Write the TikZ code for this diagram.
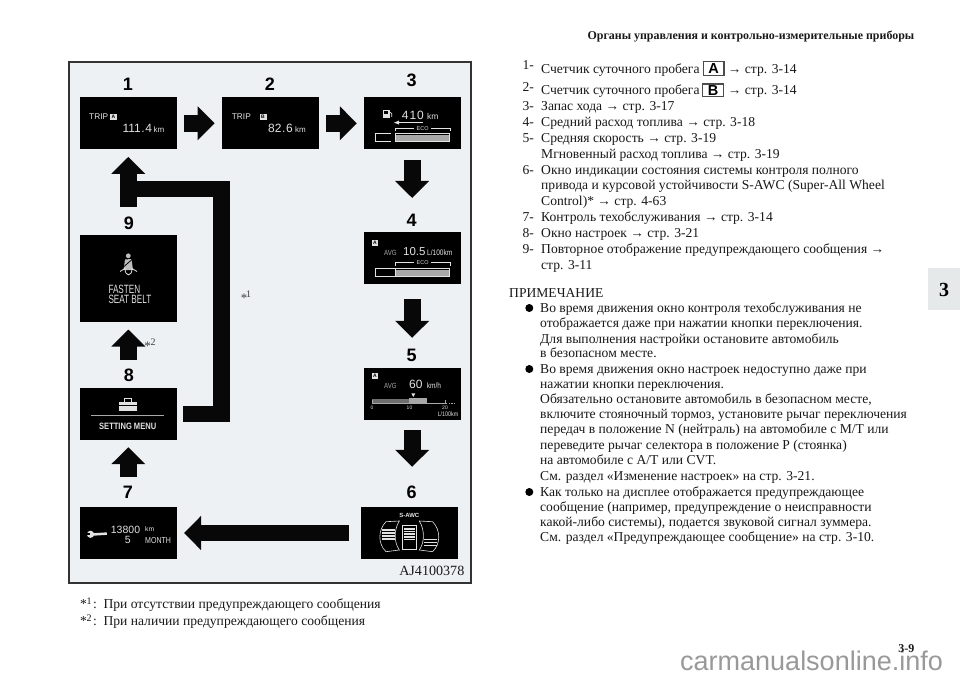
\documentclass[tikz,border=0pt]{standalone}
\usepackage{fontspec}
\usetikzlibrary{arrows.meta}
\setmainfont{Liberation Serif}
\newfontfamily\sansf{Liberation Sans}
\newfontfamily\condf[FakeStretch=0.82]{Liberation Sans}
\newfontfamily\condg[FakeStretch=0.68]{Liberation Sans}
\definecolor{panelbg}{HTML}{EEF1F3}
\definecolor{tabbg}{HTML}{E6E9E9}
\definecolor{lite}{HTML}{E2E2E2}
\definecolor{midg}{HTML}{A8A8A8}
\definecolor{darkg}{HTML}{6E6E6E}
\tikzset{
  screen/.style={fill=black,inner sep=0pt,minimum width=97pt,minimum height=52pt,anchor=center},
  num/.style={font=\sansf\bfseries\fontsize{18}{18}\selectfont,inner sep=0pt,anchor=center},
  blockbar/.style={line width=16.7pt,line join=miter,draw=black!97},
  blockarrow/.style={blockbar,-{Triangle[length=17pt,width=33pt]}},
  body/.style={font=\fontsize{13.6}{15}\selectfont,inner sep=0pt,anchor=base west,text=black!90},
  scr/.style={inner sep=0pt,anchor=base west,text=lite},
  keybox/.style={draw=black!70,line width=1.3pt,fill=white,inner sep=0pt,font=\sansf\bfseries\fontsize{14.5}{14}\selectfont},
  dotbullet/.style={circle,fill=black,inner sep=0pt,minimum size=8pt},
  tinyA/.style={fill=lite,inner sep=0pt,minimum width=7pt,minimum height=6pt,font=\sansf\bfseries\fontsize{5}{5}\selectfont,text=black}
}
\begin{document}
\begin{tikzpicture}[x=1pt,y=-1pt]
\useasboundingbox (0,0) rectangle (960,679);
\fill[white] (0,0) rectangle (960,679);
% panel
\draw[fill=panelbg,draw=black!80,line width=1.3pt] (69,62) rectangle (471,583);
% tab
\fill[tabbg] (928,268) rectangle (960,310);
\node[font=\bfseries\fontsize{20}{20}\selectfont,inner sep=0pt] (tabnum) at (944,289.5) {3};
% header, page number, watermark
\node[body,anchor=base east,font=\bfseries\fontsize{11.95}{14}\selectfont] (head) at (914.5,40) {Органы управления и контрольно-измерительные приборы};
\node[anchor=base west,inner sep=0pt,font=\sansf\fontsize{27}{27}\selectfont,text=black!40] (wm) at (680,670) {carmanualsonline.info};
\node[body,anchor=base east,font=\bfseries\fontsize{12}{14}\selectfont] (pageno) at (914.5,652) {3-9};
% screens
\node[screen] (b1) at (128.3,123.3) {};
\node[screen] (b2) at (270,123.3) {};
\node[screen] (b3) at (412.2,123.3) {};
\node[screen] (b4) at (412.2,258.2) {};
\node[screen] (b5) at (412.2,394) {};
\node[screen] (b6) at (409.2,533) {};
\node[screen] (b7) at (128.3,533) {};
\node[screen] (b8) at (128.3,414) {};
\node[screen,minimum height=87pt] (b9) at (128.3,278.5) {};
% numbers
\node[num] (n1) at (128,84) {1};
\node[num] (n2) at (270,84) {2};
\node[num] (n3) at (411.7,80.5) {3};
\node[num] (n4) at (411.7,220.5) {4};
\node[num] (n5) at (411.7,355) {5};
\node[num] (n6) at (411.7,492.5) {6};
\node[num] (n7) at (128,492) {7};
\node[num] (n8) at (129,375) {8};
\node[num] (n9) at (129,223) {9};
% arrows
\draw[blockarrow,shorten <=6.7pt,shorten >=6.7pt] (b1) -- (b2);
\draw[blockarrow,shorten <=7.7pt,shorten >=6.7pt] (b2) -- (b3);
\draw[blockarrow,shorten <=10.7pt,shorten >=34pt] (b3) -- (b4);
\draw[blockarrow,shorten <=15pt,shorten >=30pt] (b4) -- (b5);
\draw[blockarrow,shorten <=10pt,shorten >=40pt] (b5) -- (b5 |- b6.north);
\draw[blockarrow,shorten <=11.7pt,shorten >=7pt] (b6) -- (b7);
\draw[blockarrow,shorten <=29.5pt,shorten >=7pt] (b7) -- (b8);
\draw[blockarrow,shorten <=28pt,shorten >=7.3pt] (b8) -- (b9);
\coordinate (elbow) at (221.7,189);
\coordinate (stem) at (128.3,207);
\draw[blockbar,shorten <=6.3pt] (b8) -- (elbow |- b8) -- (elbow) -- (stem |- elbow);
\draw[blockarrow,shorten >=7.4pt] (stem) -- (b1);
% star notes in panel
\node[inner sep=0pt,font=\fontsize{13}{13}\selectfont,text=black!75] (s1) at (244,298.5) {*};
\node[inner sep=0pt,font=\fontsize{10}{10}\selectfont,text=black!75] (s1n) at (248.5,294) {1};
\node[inner sep=0pt,font=\fontsize{13}{13}\selectfont,text=black!75] (s2) at (147.5,346.5) {*};
\node[inner sep=0pt,font=\fontsize{10}{10}\selectfont,text=black!75] (s2n) at (153,341.7) {2};
\node[body,font=\fontsize{14.1}{14}\selectfont,anchor=base east] (code) at (464.5,575.7) {AJ4100378};
% screen 1
\node[scr,font=\sansf\fontsize{8.3}{8}\selectfont] (t1a) at (89,119.3) {TRIP};
\node[tinyA] (t1k) at (113.5,117) {A};
\node[scr,font=\sansf\fontsize{12}{12}\selectfont] (t1b) at (122.3,132.7) {111\hspace{.6pt}.\hspace{.6pt}4};
\node[scr,font=\sansf\fontsize{8}{8}\selectfont] (t1c) at (153.5,132.7) {km};
% screen 2
\node[scr,font=\sansf\fontsize{8.3}{8}\selectfont] (t2a) at (231.7,119.3) {TRIP};
\node[tinyA] (t2k) at (263,117) {B};
\node[scr,font=\sansf\fontsize{12}{12}\selectfont] (t2b) at (268,132.7) {82\hspace{.6pt}.\hspace{.6pt}6};
\node[scr,font=\sansf\fontsize{8}{8}\selectfont] (t2c) at (295,132.7) {km};
% screen 3
\fill[lite] (383,110) rectangle (389.5,118.5);
\fill[black] (384.2,111.2) rectangle (388.3,113.6);
\draw[lite,line width=.7pt] (389.5,112) -- (391.8,113.5) -- (391.8,117);
\node[scr,font=\sansf\fontsize{12}{12}\selectfont] (t3a) at (401.7,119.3) {4\hspace{1pt}1\hspace{1pt}0};
\node[scr,font=\sansf\fontsize{8.5}{8}\selectfont] (t3b) at (427,119.3) {km};
\draw[lite,line width=.8pt] (396,122.6) -- (423.3,122.6);
\fill[lite] (394,122.6) -- (399,120.6) -- (399,124.6) -- cycle;
\node[inner sep=0pt,font=\sansf\fontsize{5.5}{6}\selectfont,text=lite] (t3e) at (422.7,128.2) {ECO};
\draw[lite,line width=.6pt] (395,130.8) -- (395,128.3) -- (414,128.3);
\draw[lite,line width=.6pt] (431,128.3) -- (450,128.3) -- (450,130.8);
\draw[lite,line width=.6pt] (390.7,133.5) -- (375,133.5) -- (375,141) -- (390.7,141);
\draw[lite,line width=.8pt,fill=midg] (395.7,133.5) rectangle (449.5,141);
\draw[black,line width=.5pt] (396.3,134.6) -- (449,134.6);
% screen 4
\node[tinyA,minimum width=6.5pt] (t4k) at (375,243) {A};
\node[scr,font=\condf\fontsize{7.5}{8}\selectfont,text=midg] (t4a) at (384,255) {AVG};
\node[scr,font=\sansf\fontsize{11.5}{12}\selectfont] (t4b) at (403,255) {10.5};
\node[scr,font=\condf\fontsize{8}{8}\selectfont] (t4c) at (427,255) {L/100km};
\node[inner sep=0pt,font=\sansf\fontsize{5.5}{6}\selectfont,text=lite] (t4e) at (422.7,262.5) {ECO};
\draw[lite,line width=.6pt] (395,265.5) -- (395,262.7) -- (414,262.7);
\draw[lite,line width=.6pt] (431,262.7) -- (450,262.7) -- (450,265.5);
\draw[lite,line width=.6pt] (394.5,268.5) -- (375,268.5) -- (375,276.5) -- (394.5,276.5);
\draw[lite,line width=.8pt,fill=midg] (395.7,268.5) rectangle (449.5,276.5);
\draw[black,line width=.5pt] (396.3,269.6) -- (449,269.6);
% screen 5
\node[tinyA,minimum width=6.5pt] (t5k) at (375,375.5) {A};
\node[scr,font=\condf\fontsize{7.5}{8}\selectfont,text=midg] (t5a) at (384,388) {AVG};
\node[scr,font=\sansf\fontsize{12}{12}\selectfont] (t5b) at (409,388) {60};
\node[scr,font=\condf\fontsize{8}{8}\selectfont] (t5c) at (426.7,388) {km/h};
\fill[lite] (411.3,393.3) -- (415.3,393.3) -- (413.3,397) -- cycle;
\fill[midg] (409.5,397.7) rectangle (427,402.5);
\fill[darkg] (372,398.5) rectangle (409.5,402.5);
\draw[midg,line width=.6pt] (372,399.5) -- (372,403) -- (445,403) -- (445,399.5);
\draw[midg,line width=.6pt] (409.5,398) -- (409.5,403);
\draw[midg,line width=.7pt,dash pattern=on 1.2pt off 1.5pt] (446,403) -- (456,403);
\node[inner sep=0pt,font=\sansf\fontsize{5}{5}\selectfont,text=lite] (t5t0) at (372,407.5) {0};
\node[inner sep=0pt,font=\sansf\fontsize{5}{5}\selectfont,text=lite] (t5t1) at (409.5,407.5) {10};
\node[inner sep=0pt,font=\sansf\fontsize{5}{5}\selectfont,text=lite] (t5t2) at (445,407.5) {20};
\node[inner sep=0pt,font=\condf\fontsize{6.5}{6}\selectfont,text=lite] (t5u) at (448,414) {L/100km};
% screen 6
\node[inner sep=0pt,font=\sansf\bfseries\fontsize{6}{6}\selectfont,text=lite] (t6) at (409.3,515.8) {S-AWC};
\foreach \s in {1,-1}{
 \begin{scope}[shift={(409.3,0)},x=\s pt]
  \draw[lite,line width=.6pt] (-23.3,521.7) -- (-10,521) .. controls (-15.5,530) and (-15.5,542) .. (-10,550) -- (-23.3,551.7) .. controls (-31.5,544) and (-31.5,530) .. (-23.3,521.7);
 \end{scope}}
\foreach \yy in {529,532,535,538}{\fill[lite] (381.5,\yy) rectangle (395,\yy+1.7);}
\foreach \yy in {538.5,541.5,544.5}{\fill[lite] (424,\yy) rectangle (437,\yy+1.7);}
\draw[lite,line width=.6pt] (402.3,525) rectangle (416.7,549.3);
\foreach \yy in {528.2,530.8,533.4,536,538.6}{\fill[lite] (404,\yy) rectangle (414.5,\yy+1.6);}
% screen 7
\fill[lite] (90.5,534.3) circle (3.6);
\fill[black] (85.8,533.3) rectangle (89.6,535.3);
\draw[lite,line width=2.5pt] (91,534.6) -- (106.8,533.6);
\node[scr,font=\sansf\fontsize{10.5}{11}\selectfont] (t7a) at (110.7,533.5) {13800};
\node[scr,font=\sansf\fontsize{6.8}{7}\selectfont] (t7b) at (145,531) {km};
\node[scr,font=\sansf\fontsize{10.5}{11}\selectfont] (t7c) at (124.7,543.5) {5};
\node[scr,font=\condf\fontsize{8.6}{8}\selectfont] (t7d) at (145,543.5) {MONTH};
% screen 8
\fill[lite] (119,402) rectangle (136.7,410.7);
\draw[lite,line width=1pt] (124,402) -- (124,398.7) -- (131.8,398.7) -- (131.8,402);
\draw[black,line width=.6pt] (119,405.5) -- (136.7,405.5);
\draw[midg,line width=.6pt] (90.7,415.7) -- (164,415.7);
\node[scr,font=\condf\bfseries\fontsize{9.2}{9}\selectfont] (t8) at (99,429.3) {SETTING MENU};
% screen 9
\fill[midg!60!lite] (128.3,255.8) circle (2.4);
\fill[midg!60!lite] (125,259.5) -- (131.5,259) -- (133,270) -- (123.5,270) -- cycle;
\draw[black,line width=.8pt] (124,266.5) -- (132,259.5);
\draw[lite,line width=.8pt] (120,271.5) -- (125,268.5) .. controls (125,277) and (132,277) .. (132,268.5) -- (137,271.5);
\node[scr,font=\condg\fontsize{12}{12}\selectfont] (t9a) at (108.3,293.3) {FASTEN};
\node[scr,font=\condg\fontsize{12}{12}\selectfont] (t9b) at (108.3,303.3) {SEAT BELT};
% footnotes
\node[body] (fs1) at (80,608.3) {*};
\node[body,font=\fontsize{10}{10}\selectfont] (fn1) at (86.5,604.5) {1};
\node[body] (fc1) at (93,608.3) {:};
\node[body] (f1) at (103.3,608.3) {При отсутствии предупреждающего сообщения};
\node[body] (fs2) at (80,625) {*};
\node[body,font=\fontsize{10}{10}\selectfont] (fn2) at (86.5,621.2) {2};
\node[body] (fc2) at (93,625) {:};
\node[body] (f2) at (103.3,625) {При наличии предупреждающего сообщения};
% list
\node[body] (l1n) at (522.3,70) {1-};
\node[body] (l1) at (541,73.3) {Счетчик суточного пробега};
\node[keybox,minimum width=20.5pt,minimum height=14pt] (kA) at (713.6,68.7) {A};
\node[body] (l1r) at (727.7,73.3) {→ стр. 3-14};
\node[body] (l2n) at (522.3,91.7) {2-};
\node[body] (l2) at (541,95) {Счетчик суточного пробега};
\node[keybox,minimum width=20.5pt,minimum height=12.5pt] (kB) at (713,90.3) {B};
\node[body] (l2r) at (727.7,95) {→ стр. 3-14};
\node[body] (l3n) at (522.3,110.7) {3-};
\node[body] (l3) at (541,110.7) {Запас хода → стр. 3-17};
\node[body] (l4n) at (522.3,126.7) {4-};
\node[body] (l4) at (541,126.7) {Средний расход топлива → стр. 3-18};
\node[body] (l5n) at (522.3,142.7) {5-};
\node[body] (l5) at (541,142.7) {Средняя скорость → стр. 3-19};
\node[body] (l5b) at (541,158.3) {Мгновенный расход топлива → стр. 3-19};
\node[body] (l6n) at (522.3,174.3) {6-};
\node[body] (l6) at (541,174.3) {Окно индикации состояния системы контроля полного};
\node[body] (l6b) at (541,189.3) {привода и курсовой устойчивости S-AWC (Super-All Wheel};
\node[body] (l6c) at (541,205) {Control)* → стр. 4-63};
\node[body] (l7n) at (522.3,221) {7-};
\node[body] (l7) at (541,221) {Контроль техобслуживания → стр. 3-14};
\node[body] (l8n) at (522.3,237) {8-};
\node[body] (l8) at (541,237) {Окно настроек → стр. 3-21};
\node[body] (l9n) at (522.3,253.3) {9-};
\node[body] (l9) at (541,253.3) {Повторное отображение предупреждающего сообщения →};
\node[body] (l9b) at (541,269) {стр. 3-11};
% notes
\node[body] (nh) at (509,297.3) {ПРИМЕЧАНИЕ};
\node[dotbullet] (d1) at (529.3,308) {};
\node[body] (n01) at (540,312.3) {Во время движения окно контроля техобслуживания не};
\node[body] (n02) at (540,327.3) {отображается даже при нажатии кнопки переключения.};
\node[body] (n03) at (540,343.3) {Для выполнения настройки остановите автомобиль};
\node[body] (n04) at (540,357.3) {в безопасном месте.};
\node[dotbullet] (d2) at (529.3,369) {};
\node[body] (n05) at (540,373.3) {Во время движения окно настроек недоступно даже при};
\node[body] (n06) at (540,388.3) {нажатии кнопки переключения.};
\node[body] (n07) at (540,403.3) {Обязательно остановите автомобиль в безопасном месте,};
\node[body] (n08) at (540,418.3) {включите стояночный тормоз, установите рычаг переключения};
\node[body] (n09) at (540,433.3) {передач в положение N (нейтраль) на автомобиле с M/T или};
\node[body] (n10) at (540,449.3) {переведите рычаг селектора в положение P (стоянка)};
\node[body] (n11) at (540,464.3) {на автомобиле с A/T или CVT.};
\node[body] (n12) at (540,480) {См. раздел «Изменение настроек» на стр. 3-21.};
\node[dotbullet] (d3) at (529.3,492) {};
\node[body] (n13) at (540,496) {Как только на дисплее отображается предупреждающее};
\node[body] (n14) at (540,511) {сообщение (например, предупреждение о неисправности};
\node[body] (n15) at (540,526) {какой-либо системы), подается звуковой сигнал зуммера.};
\node[body] (n16) at (540,541) {См. раздел «Предупреждающее сообщение» на стр. 3-10.};
\end{tikzpicture}
\end{document}
